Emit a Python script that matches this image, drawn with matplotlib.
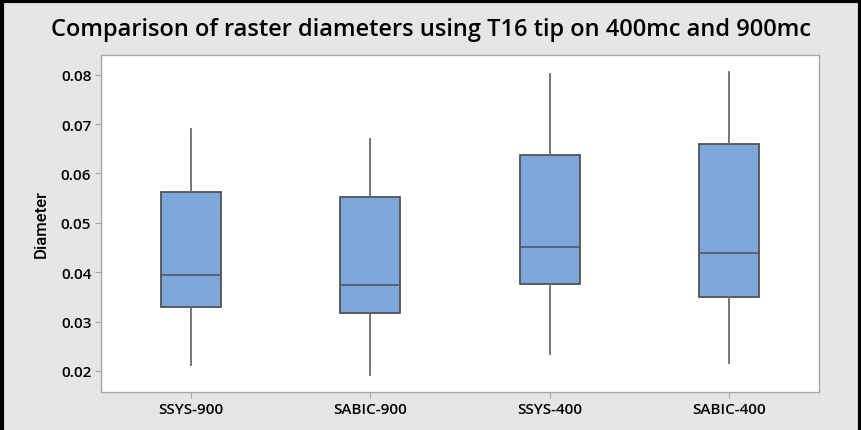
import matplotlib.pyplot as plt
from matplotlib.lines import Line2D

# values
groups = ['SSYS-900', 'SABIC-900', 'SSYS-400', 'SABIC-400']
whisker_lo = [0.0213, 0.0192, 0.0234, 0.0216]
q1 = [0.0330, 0.0318, 0.0376, 0.0349]
median = [0.0395, 0.0374, 0.0451, 0.0439]
q3 = [0.0563, 0.0552, 0.0638, 0.0659]
whisker_hi = [0.0691, 0.0669, 0.0801, 0.0805]
yticks = [0.02, 0.03, 0.04, 0.05, 0.06, 0.07, 0.08]

plt.rcParams['font.family'] = ['Open Sans', 'DejaVu Sans']

fig = plt.figure(figsize=(8.62, 4.31), dpi=100, facecolor='#e6e6e6')
ax = fig.add_axes([101 / 862, 1 - 393 / 431, 718 / 862, 337 / 431])
ax.set_facecolor('white')

stats = []
for i, g in enumerate(groups):
    stats.append({'label': g, 'whislo': whisker_lo[i], 'q1': q1[i], 'med': median[i],
                  'q3': q3[i], 'whishi': whisker_hi[i], 'fliers': []})

ax.bxp(stats, positions=range(1, len(groups) + 1), widths=0.334, patch_artist=True,
       showcaps=False,
       boxprops=dict(facecolor='#7ca7d8', edgecolor='#4f5258', linewidth=1.3),
       medianprops=dict(color='#4f5258', linewidth=1.1),
       whiskerprops=dict(color='#6b6b6b', linewidth=1.3))

ax.set_xlim(0.5, 4.5)
ax.set_ylim(0.01574, 0.0840)
ax.set_yticks(yticks)
ax.set_yticklabels(['%.2f' % t for t in yticks])
ax.set_xticks(range(1, len(groups) + 1))
ax.set_xticklabels(groups)
for s in ax.spines.values():
    s.set_color('#a6a6a6')
    s.set_linewidth(1.0)
ax.tick_params(length=4, color='#a6a6a6', labelsize=11, pad=3)
for lab in ax.get_xticklabels() + ax.get_yticklabels():
    lab.set_fontweight('semibold')

ax.set_ylabel('Diameter', fontsize=12, fontweight='medium', labelpad=9,
              family=['Roboto', 'DejaVu Sans'])
fig.text(431 / 862, 1 - 30 / 431, 'Comparison of raster diameters using T16 tip on 400mc and 900mc',
         ha='center', va='center', fontsize=17, fontweight='semibold')

# outer black frame (left, top, right)
for xs, ys in [([0.002, 0.002], [0, 1]), ([0, 1], [0.996, 0.996]), ([0.9975, 0.9975], [0, 1])]:
    fig.add_artist(Line2D(xs, ys, transform=fig.transFigure, color='black', linewidth=3))

fig.savefig('out.png', dpi=100, facecolor=fig.get_facecolor())
